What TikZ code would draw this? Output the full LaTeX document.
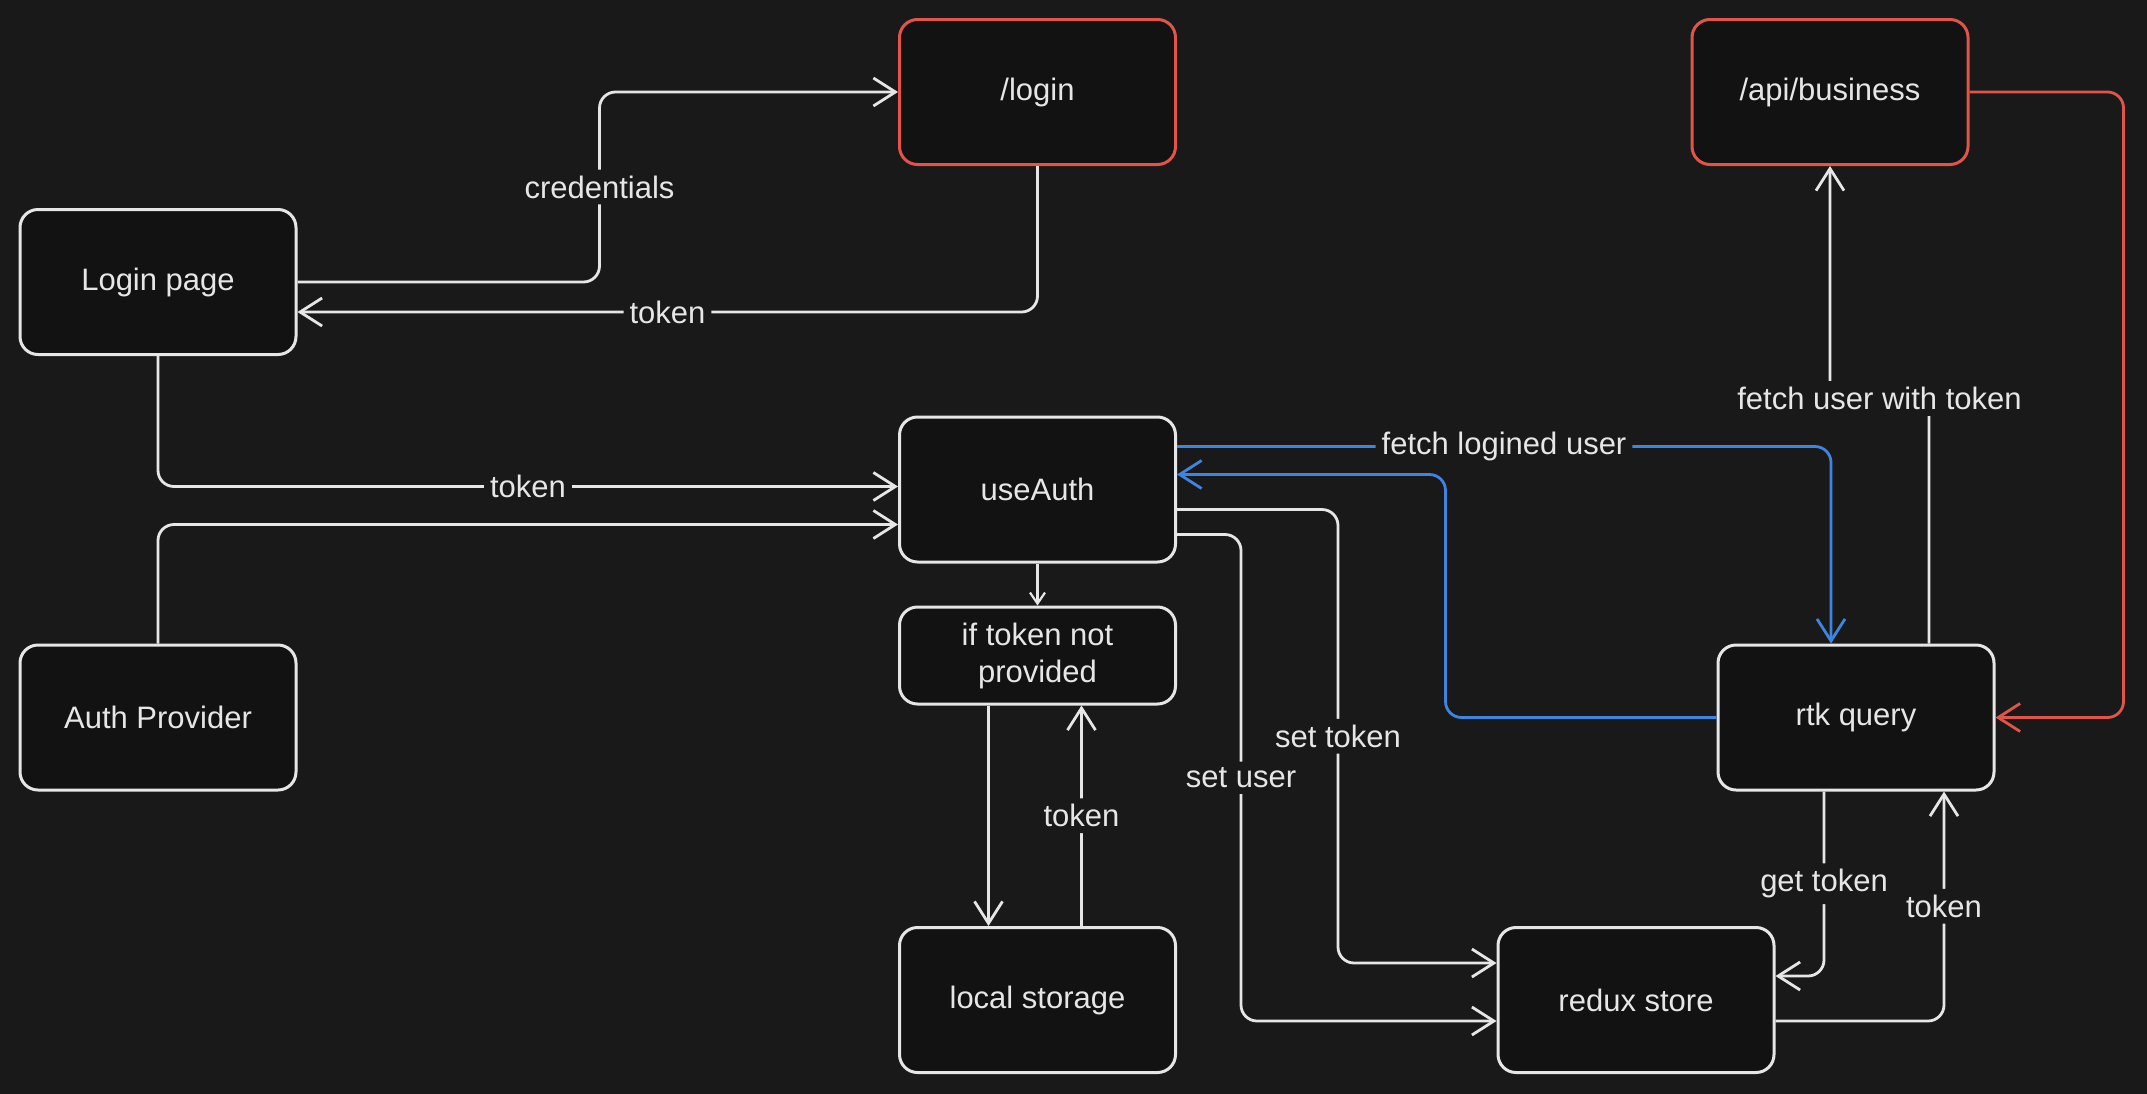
\documentclass[tikz,border=0pt]{standalone}
\usepackage{fontspec}
\setmainfont{Liberation Sans}
\usepackage{tikz}
\usetikzlibrary{arrows.meta,positioning,calc}

\definecolor{bgdark}{HTML}{191919}
\definecolor{boxfill}{HTML}{121212}
\definecolor{inkwhite}{HTML}{E6E6E6}
\definecolor{inkred}{HTML}{E0544A}
\definecolor{inkblue}{HTML}{3D85E0}

\begin{document}
\begin{tikzpicture}[x=1pt, y=-1pt,
    font=\fontsize{31}{37}\selectfont,
    box/.style={draw=inkwhite, fill=boxfill, line width=3pt, rounded corners=18pt,
      minimum width=276pt, minimum height=145pt, text=inkwhite, align=center},
    apibox/.style={box, draw=inkred},
    arr/.style={draw=inkwhite, line width=2.8pt, rounded corners=16pt,
      -{Straight Barb[length=22pt,width=28pt]}},
    lbl/.style={fill=bgdark, text=inkwhite, inner sep=6pt}]

  % Canvas
  \useasboundingbox (0,0) rectangle (2147,1093);
  \fill[bgdark] (-8,-8) rectangle (2155,1101);

  % Boxes
  \node[box]    (lp)    at (158,282)    {Login page};
  \node[box]    (ap)    at (158,717.5)  {Auth Provider};
  \node[apibox] (login) at (1037.5,92)  {/login};
  \node[apibox] (api)   at (1830,92)    {/api/business};
  \node[box]    (ua)    at (1037.5,489.5) {useAuth};
  \node[box, minimum height=97pt] (itp) at (1037.5,655.5)
    {if token not\\provided};
  \node[box]    (ls)    at (1037.5,1000) {local storage};
  \node[box]    (rs)    at (1636,1000)  {redux store};
  \node[box]    (rq)    at (1856,717.5) {rtk query};

  % Login flow
  \draw[arr] (lp.east) -- ++(302,0)
    |- node[lbl, pos=0.25] {credentials} (login.west);
  \draw[arr] (login.south) |- node[lbl, pos=0.75] {token}
    ($(lp.east)+(0,30)$);
  \draw[arr] (lp.south) |- node[lbl, pos=0.75] {token}
    ($(ua.west)+(0,-3)$);
  \draw[arr] (ap.north) |- ($(ua.west)+(0,35)$);

  % useAuth and local storage
  \draw[arr, line width=2.2pt, -{Straight Barb[length=11pt,width=15pt]}]
    (ua.south) -- (itp.north);
  \draw[arr] ($(itp.south)+(-49,0)$) -- ($(ls.north)+(-49,0)$);
  \draw[arr] ($(ls.north)+(44,0)$) -- node[lbl] {token}
    ($(itp.south)+(44,0)$);

  % useAuth and rtk query
  \draw[arr, draw=inkblue] ($(ua.east)+(0,-43)$)
    -| node[lbl, pos=0.25] {fetch logined user} ($(rq.north)+(-25,0)$);
  \draw[arr, draw=inkblue] (rq.west) -- ++(-271,0)
    |- ($(ua.east)+(0,-15)$);

  % useAuth and redux store
  \draw[arr] ($(ua.east)+(0,20)$) -- ++(161,0)
    |- node[lbl, pos=0.25] {set token} ($(rs.west)+(0,-37)$);
  \draw[arr] ($(ua.east)+(0,45)$) -- ++(64,0)
    |- node[lbl, pos=0.25] {set user} ($(rs.west)+(0,21)$);

  % rtk query and redux store
  \draw[arr] ($(rq.south)+(-32,0)$)
    |- node[lbl, pos=0.25] {get token} ($(rs.east)+(0,-24)$);
  \draw[arr] ($(rs.east)+(0,21)$)
    -| node[lbl, pos=0.75] {token} ($(rq.south)+(88,0)$);

  % rtk query and api
  \draw[arr] ($(rq.north)+(73,0)$) -- ++(0,-245)
    -| node[lbl, pos=0.25] {fetch user with token} (api.south);
  \draw[arr, draw=inkred] (api.east) -- ++(154,0) |- (rq.east);
\end{tikzpicture}
\end{document}
